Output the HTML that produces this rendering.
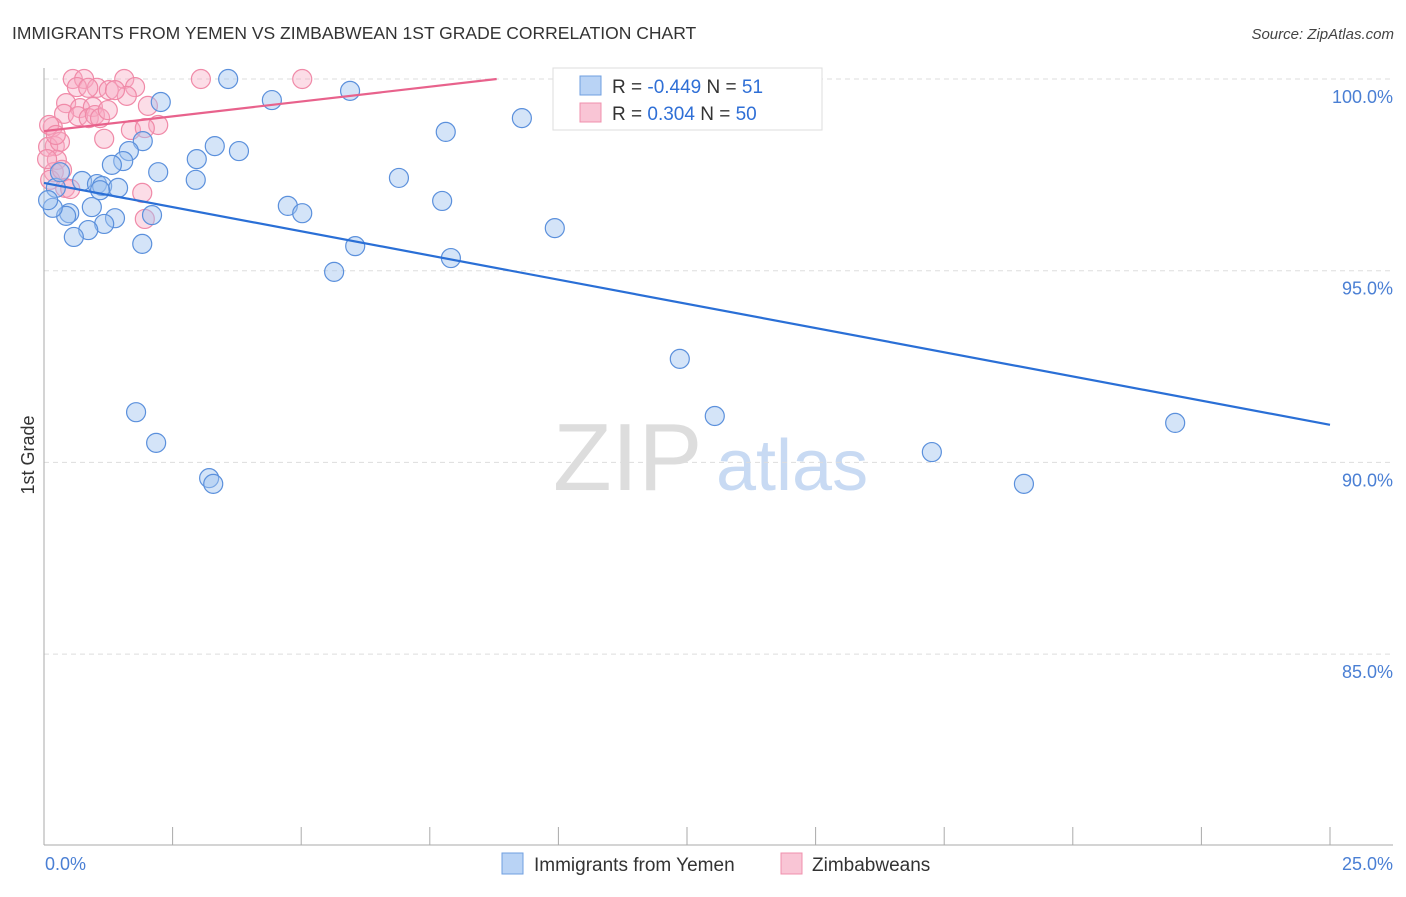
<!DOCTYPE html>
<html><head><meta charset="utf-8"><style>
body{margin:0;background:#fff;font-family:"Liberation Sans",sans-serif}
svg text{font-family:"Liberation Sans",sans-serif}
</style></head><body>
<svg id="chart" width="1406" height="892" viewBox="0 0 1406 892" xmlns="http://www.w3.org/2000/svg">
<text x="12" y="39" font-size="17.5" fill="#333">IMMIGRANTS FROM YEMEN VS ZIMBABWEAN 1ST GRADE CORRELATION CHART</text>
<text x="1394" y="39" font-size="15" fill="#444" text-anchor="end" font-style="italic">Source: ZipAtlas.com</text>
<g>
<text x="553" y="490" font-size="96" fill="#ddd" font-family="Liberation Serif,serif">ZIP</text>
<text x="716" y="490" font-size="72" fill="#c8daf3">atlas</text>
</g>
<g id="grid"></g>
<g id="axes"></g>
<g id="pts"></g>
<g id="trends"></g>
<text transform="translate(34,455) rotate(-90)" font-size="18" fill="#333" text-anchor="middle">1st Grade</text>
<g>
<rect x="553" y="68" width="269" height="62" fill="#fff" stroke="#ddd"/>
<rect x="580" y="76" width="21" height="19" fill="#b9d3f5" stroke="#6f9fe0"/>
<text x="612" y="93" font-size="19" fill="#333">R = <tspan fill="#2f6fd6">-0.449</tspan>   N =  <tspan fill="#2f6fd6">51</tspan></text>
<rect x="580" y="103" width="21" height="19" fill="#f9c5d5" stroke="#f090ad"/>
<text x="612" y="120" font-size="19" fill="#333">R =  <tspan fill="#2f6fd6">0.304</tspan>   N = <tspan fill="#2f6fd6">50</tspan></text>
</g>
<g>
<rect x="502" y="853" width="21" height="21" fill="#b9d3f5" stroke="#6f9fe0"/>
<text x="534" y="871" font-size="19" fill="#333">Immigrants from Yemen</text>
<rect x="781" y="853" width="21" height="21" fill="#f9c5d5" stroke="#f090ad"/>
<text x="812" y="871" font-size="19" fill="#333">Zimbabweans</text>
</g>
</svg>
<script>
const blueX=[3.58,5.95,4.43,2.27,9.29,7.81,1.92,3.32,3.79,1.65,2.97,1.54,1.32,2.22,2.95,6.90,0.74,1.03,1.13,1.44,0.23,0.31,7.74,4.74,5.02,0.93,2.10,0.49,0.43,0.17,1.38,1.17,0.86,0.58,9.93,1.91,6.05,7.91,5.64,12.36,1.79,13.04,21.99,2.18,17.26,3.21,3.29,19.05,0.08,1.09];
const blueY=[100,99.69,99.45,99.40,98.98,98.62,98.38,98.25,98.12,98.12,97.91,97.86,97.76,97.57,97.37,97.42,97.34,97.26,97.21,97.16,97.16,97.57,96.82,96.69,96.50,96.66,96.45,96.50,96.43,96.64,96.37,96.22,96.06,95.88,96.11,95.70,95.64,95.33,94.97,92.70,91.31,91.21,91.03,90.51,90.27,89.59,89.44,89.44,96.84,97.10];
const pinkX=[0.56,0.78,1.56,3.05,5.02,1.03,1.77,1.26,0.64,0.86,1.61,0.43,2.02,0.70,0.95,0.39,0.66,0.87,0.99,0.17,0.10,2.22,1.69,1.17,0.21,0.08,0.31,0.25,0.19,0.12,0.41,0.51,1.91,1.96,0.23,0.06,0.35,1.09,1.24,1.38,1.96];
const pinkY=[100,100,100,100,100,99.77,99.79,99.71,99.79,99.77,99.56,99.37,99.30,99.24,99.27,99.09,99.03,98.98,99.06,98.75,98.80,98.80,98.67,98.44,98.25,98.23,98.36,97.89,97.57,97.37,97.16,97.13,97.03,96.35,98.54,97.91,97.63,98.98,99.19,99.71,98.72];
const blueTrendX=[0,25], blueTrendY=[97.29,90.98];
const pinkTrendX=[0,8.8], pinkTrendY=[98.64,100];
const yTicks=[100,95,90,85];
const yTickLabels=["100.0%","95.0%","90.0%","85.0%"];
const xTicks=[0,2.5,5,7.5,10,12.5,15,17.5,20,22.5,25];
const xEndLabels=["0.0%","25.0%"];
const X=v=>44+v/25*1286;
const Y=v=>79+(100-v)/5*191.7;
const NS="http://www.w3.org/2000/svg";
function mk(t,a,p){const e=document.createElementNS(NS,t);for(const k in a)e.setAttribute(k,a[k]);p.appendChild(e);return e;}
const grid=document.getElementById('grid'),axes=document.getElementById('axes'),pts=document.getElementById('pts'),tr=document.getElementById('trends');
yTicks.forEach((v,i)=>{
 const l=mk('line',{x1:44,x2:1393,y1:Y(v),y2:Y(v),stroke:'#ddd','stroke-dasharray':'5,4'},grid);
 
 
 const t=mk('text',{x:1393,y:Y(v)+24,'font-size':18,fill:'#4a7fd4','text-anchor':'end'},axes);
 t.textContent=yTickLabels[i];
 
 
});
const ya=mk('line',{x1:44,x2:44,y1:68,y2:845,stroke:'#aaa'},axes);


const xa=mk('line',{x1:44,x2:1393,y1:845,y2:845,stroke:'#aaa'},axes);


xTicks.forEach(v=>{
 const l=mk('line',{x1:X(v),x2:X(v),y1:827,y2:845,stroke:'#aaa'},axes);
 
 
});
const t0=mk('text',{x:45,y:870,'font-size':18,fill:'#4a7fd4'},axes);t0.textContent=xEndLabels[0];


const t1=mk('text',{x:1393,y:870,'font-size':18,fill:'#4a7fd4','text-anchor':'end'},axes);t1.textContent=xEndLabels[1];


pinkX.forEach((v,i)=>{
 const c=mk('circle',{cx:X(v),cy:Y(pinkY[i]),r:9.5,fill:'rgba(248,170,195,0.4)',stroke:'#f08aa8','stroke-width':1.2},pts);
 
 
});
blueX.forEach((v,i)=>{
 const c=mk('circle',{cx:X(v),cy:Y(blueY[i]),r:9.5,fill:'rgba(160,196,240,0.45)',stroke:'#5b90dc','stroke-width':1.2},pts);
 
 
});
const bl=mk('line',{x1:X(blueTrendX[0]),y1:Y(blueTrendY[0]),x2:X(blueTrendX[1]),y2:Y(blueTrendY[1]),stroke:'#2a6fd6','stroke-width':2.2},tr);


const pl=mk('line',{x1:X(pinkTrendX[0]),y1:Y(pinkTrendY[0]),x2:X(pinkTrendX[1]),y2:Y(pinkTrendY[1]),stroke:'#e8628c','stroke-width':2.2},tr);


</script>
</body></html>
